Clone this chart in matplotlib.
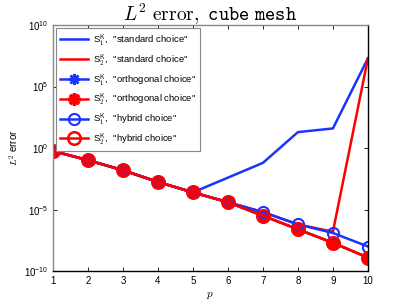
import matplotlib
matplotlib.use("Agg")
import matplotlib.pyplot as plt
import numpy as np

plt.rcParams['mathtext.fontset'] = 'cm'
plt.rcParams['font.family'] = ['Liberation Sans', 'DejaVu Sans']

p = [1, 2, 3, 4, 5, 6, 7, 8, 9, 10]
log_common = [-0.24, -0.98, -1.8, -2.75, -3.6, -4.4]
s1_standard = 10.0 ** np.array(log_common[:5] + [-2.4, -1.2, 1.3, 1.6, 7.3])
s2_standard = 10.0 ** np.array(log_common + [-5.2, -6.2, -6.8, 7.3])
s1_orth = 10.0 ** np.array(log_common + [-5.5, -6.6, -7.7, -8.9])
s2_orth = 10.0 ** np.array(log_common + [-5.5, -6.6, -7.7, -8.9])
s1_hybrid = 10.0 ** np.array(log_common + [-5.2, -6.2, -6.9, -8.0])
s2_hybrid = 10.0 ** np.array(log_common + [-5.5, -6.6, -7.7, -8.9])

blue = '#1a33ff'
red = '#ff0000'
ast = (8, 2, 0)

fig = plt.figure(figsize=(4.07, 3.06), dpi=100)
ax = fig.add_axes([0.130, 0.114, 0.774, 0.804])

lw = 1.8
ax.semilogy(p, s1_standard, '-', color=blue, lw=lw, label=r'S$_1^{\mathsf{K}}$,  "standard choice"')
ax.semilogy(p, s2_standard, '-', color=red, lw=lw, label=r'S$_2^{\mathsf{K}}$,  "standard choice"')
ax.semilogy(p, s1_orth, '-', marker=ast, color=blue, lw=lw, ms=8, mew=1.8, label=r'S$_1^{\mathsf{K}}$,  "orthogonal choice"')
ax.semilogy(p, s2_orth, '-', marker=ast, color=red, lw=lw, ms=9, mew=2.5, label=r'S$_2^{\mathsf{K}}$,  "orthogonal choice"')
ax.semilogy(p, s1_hybrid, '-o', color=blue, lw=lw, ms=8, mew=1.5, mfc='none', label=r'S$_1^{\mathsf{K}}$,  "hybrid choice"')
ax.semilogy(p, s2_hybrid, '-o', color=red, lw=lw, ms=9, mew=1.8, mfc='none', label=r'S$_2^{\mathsf{K}}$,  "hybrid choice"')

ax.set_xlim(1, 10)
ax.set_ylim(1e-10, 1e10)
ax.set_xticks(p)
ax.set_yticks([1e-10, 1e-5, 1e0, 1e5, 1e10])
ax.yaxis.set_minor_locator(matplotlib.ticker.NullLocator())
ax.tick_params(direction='in', length=3, labelsize=7, top=True, right=True, width=0.6)
for s in ['left', 'top']:
    ax.spines[s].set_color('#888888')
for s in ['bottom', 'right']:
    ax.spines[s].set_color('black')
for s in ax.spines.values():
    s.set_linewidth(1.0)

ax.set_title(r'$L^2\ \mathrm{error,}\ \mathtt{cube\ mesh}$', fontsize=14, pad=3)
ax.set_xlabel(r'$p$', fontsize=8, labelpad=3)
ax.set_ylabel(r'$L^2$ error', fontsize=7, labelpad=2)

leg = ax.legend(loc='upper left', fontsize=6.8, fancybox=False, edgecolor='#888888',
                framealpha=1, handlelength=3.0, borderpad=0.4, labelspacing=0.42,
                borderaxespad=0.35, numpoints=1, handletextpad=0.5)
leg.get_frame().set_linewidth(0.8)

fig.savefig('out.png', dpi=100)
